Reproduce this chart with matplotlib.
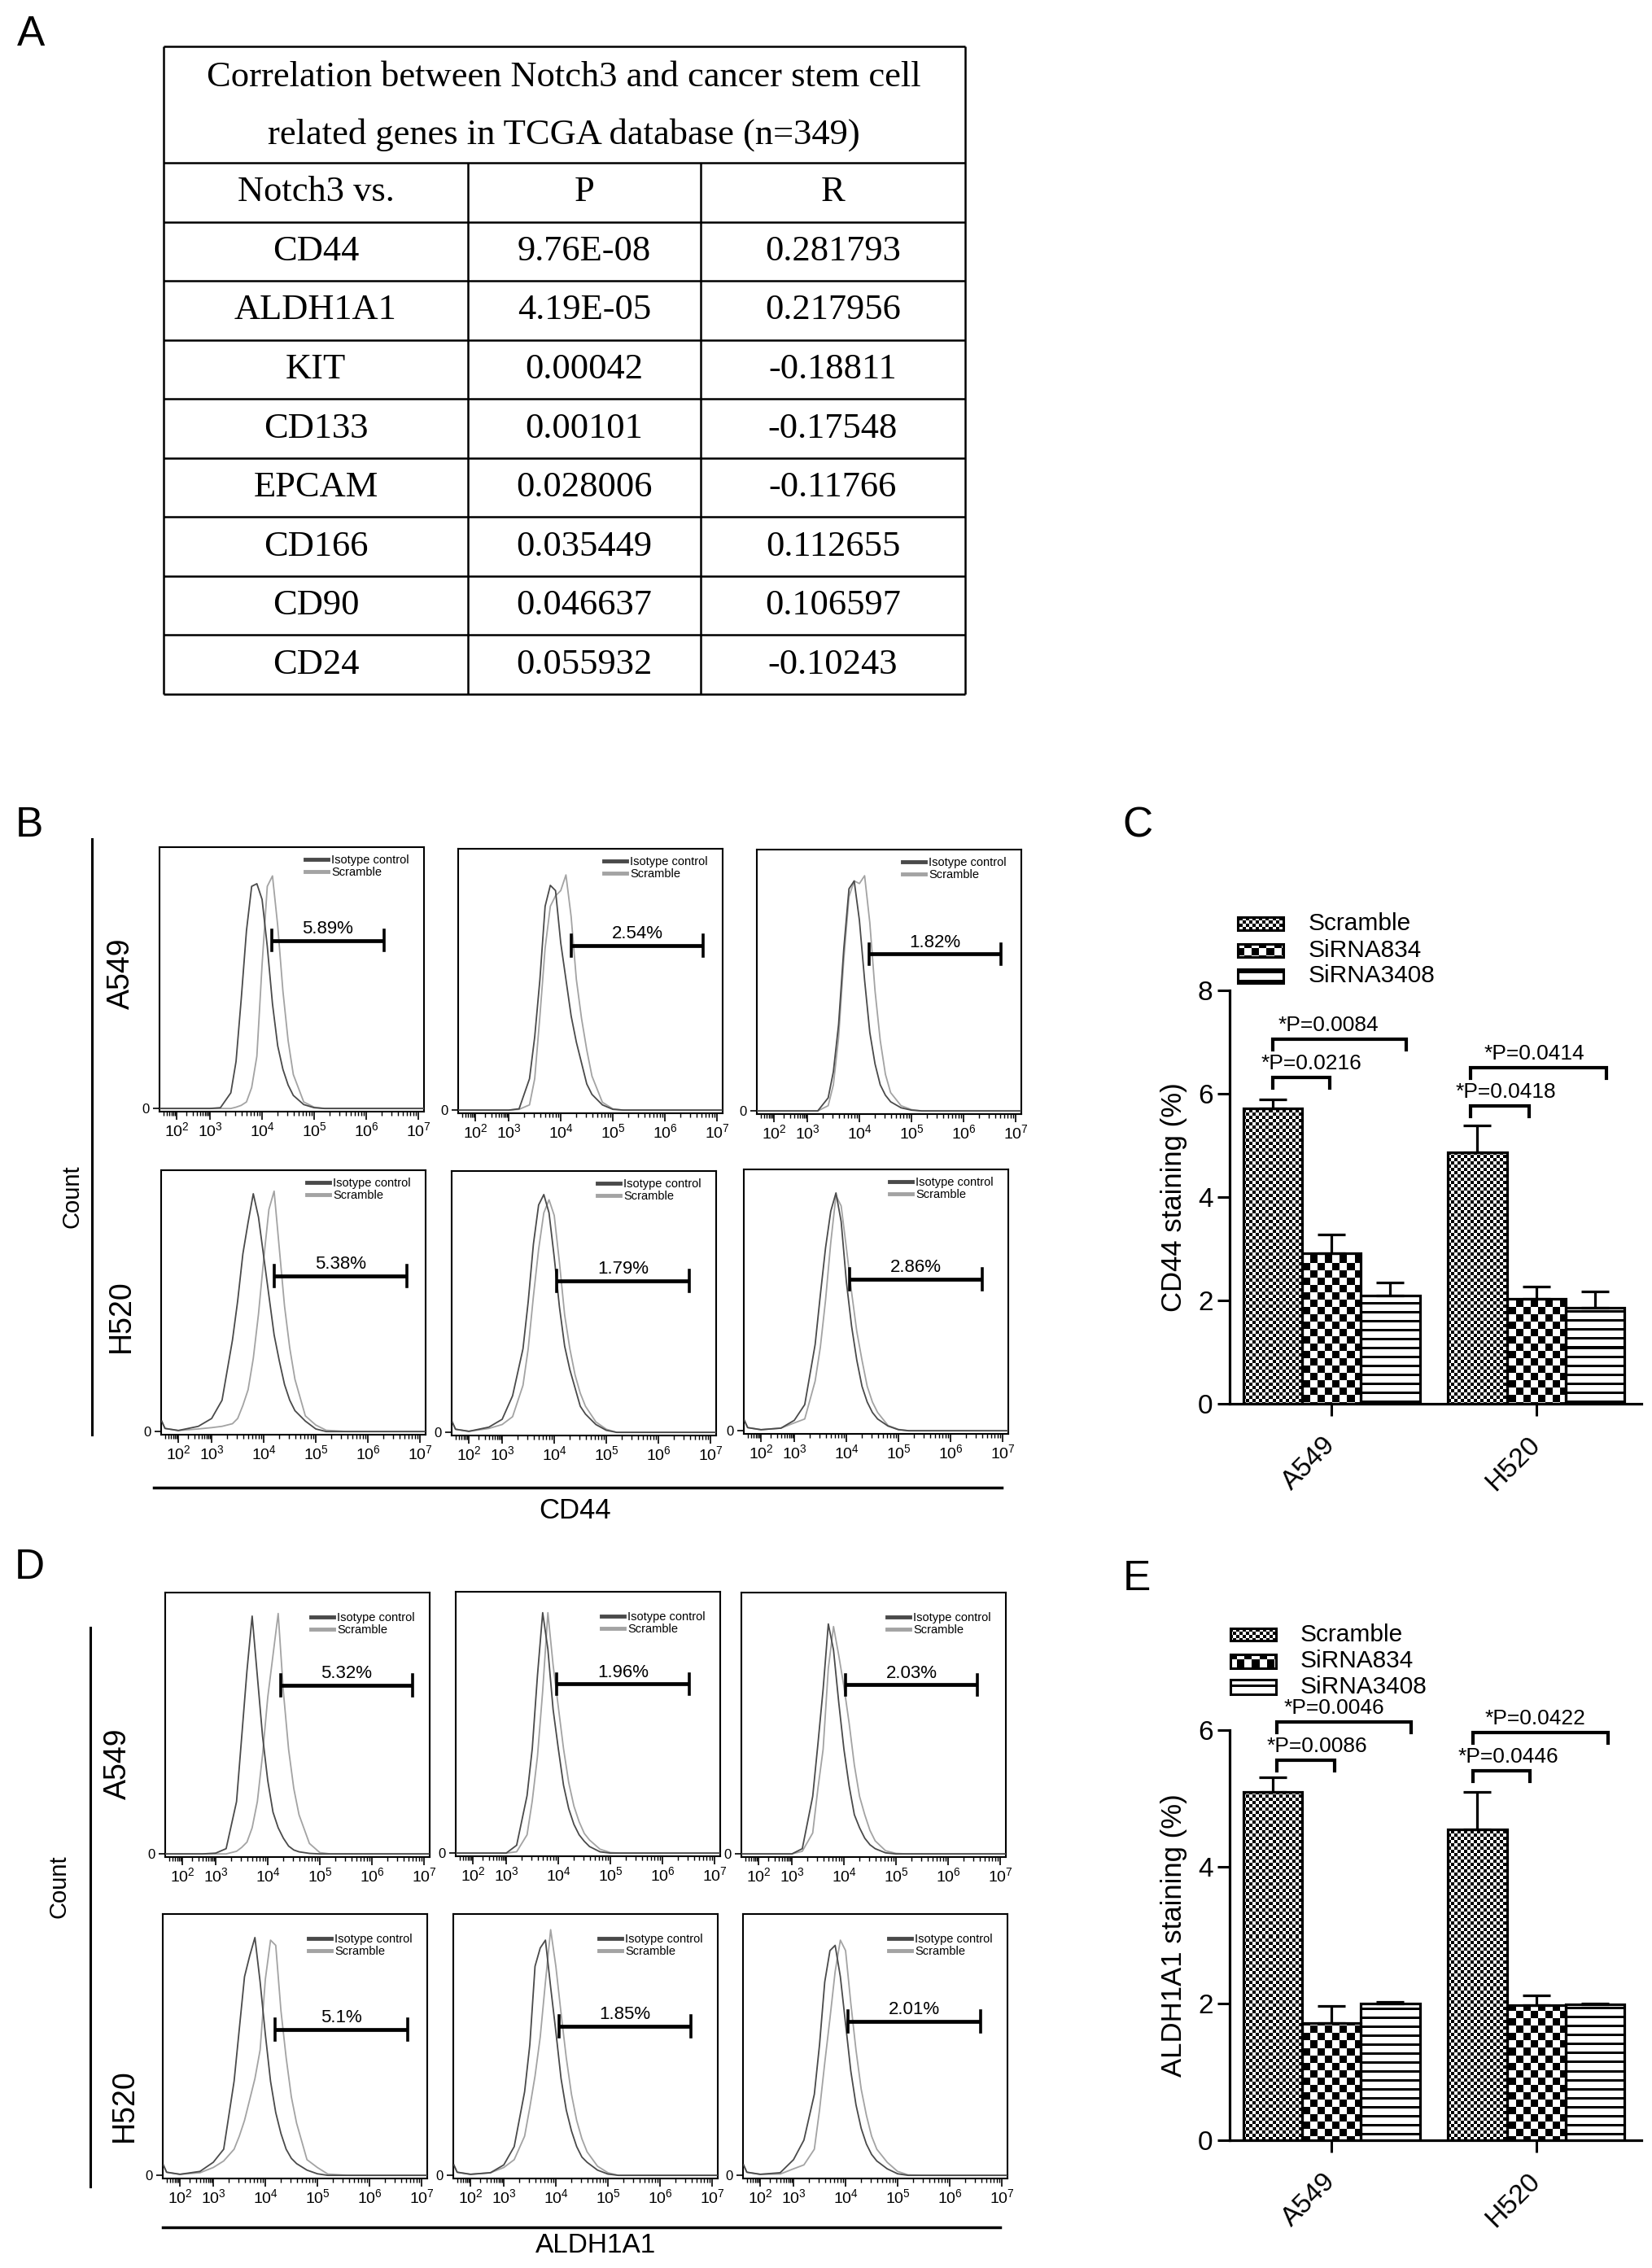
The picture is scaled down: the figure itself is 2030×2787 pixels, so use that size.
import numpy as np
import matplotlib
matplotlib.use("Agg")
import matplotlib.pyplot as plt
from matplotlib.lines import Line2D
from matplotlib.patches import Rectangle

plt.rcParams['font.family'] = ['Liberation Sans', 'DejaVu Sans']
plt.rcParams['mathtext.fontset'] = 'custom'
plt.rcParams['mathtext.rm'] = 'Liberation Sans'
plt.rcParams['mathtext.it'] = 'Liberation Sans:italic'
plt.rcParams['mathtext.bf'] = 'Liberation Sans:bold'

# ── panel A: table ───────────────────────────────────────────────────────────
table_title = ["Correlation between Notch3 and cancer stem cell",
               "related genes in TCGA database (n=349)"]
table_header = ["Notch3 vs.", "P", "R"]
genes = ["CD44", "ALDH1A1", "KIT", "CD133", "EPCAM", "CD166", "CD90", "CD24"]
p_values = ["9.76E-08", "4.19E-05", "0.00042", "0.00101",
            "0.028006", "0.035449", "0.046637", "0.055932"]
r_values = ["0.281793", "0.217956", "-0.18811", "-0.17548",
            "-0.11766", "0.112655", "0.106597", "-0.10243"]

# ── panels B / D: flow histograms (x = log10 fluorescence, y = rel. count) ──
flow_log = [1.5, 1.6, 2.0, 2.6, 3.0, 3.2, 3.4, 3.5, 3.6, 3.7, 3.8, 3.9,
            4.0, 4.1, 4.2, 4.3, 4.4, 4.5, 4.6, 4.8, 5.0, 5.2, 5.6, 7.15]

cd44_a549_iso = [
    [0, 0, 0, 0, 0, .003, .06, .18, .42, .68, .85, .86, .80, .62, .40, .24, .15, .09, .05, .015, .003, 0, 0, 0],
    [0, 0, 0, 0, 0, .005, .12, .28, .50, .78, .86, .84, .64, .50, .36, .26, .18, .10, .06, .02, .003, 0, 0, 0],
    [0, 0, 0, 0, 0, 0, .05, .15, .33, .62, .85, .88, .73, .50, .30, .18, .10, .06, .035, .012, .003, 0, 0, 0]]
cd44_a549_scr = [
    [0, 0, 0, 0, 0, 0, 0, .005, .012, .025, .08, .20, .55, .85, .89, .70, .45, .26, .13, .025, .005, 0, 0, 0],
    [0, 0, 0, 0, 0, .003, .02, .12, .36, .62, .78, .82, .84, .90, .74, .50, .35, .23, .13, .03, .005, 0, 0, 0],
    [0, 0, 0, 0, 0, 0, .02, .10, .28, .58, .82, .88, .87, .90, .72, .46, .27, .14, .07, .02, .005, 0, 0, 0]]
cd44_h520_iso = [
    [.04, .012, .004, .02, .05, .12, .35, .50, .68, .80, .91, .82, .67, .52, .37, .27, .18, .12, .08, .04, .01, 0, 0, 0],
    [.04, .012, .004, .02, .05, .14, .32, .50, .72, .87, .91, .84, .67, .48, .33, .24, .17, .10, .07, .03, .008, 0, 0, 0],
    [.04, .012, .004, .01, .04, .10, .33, .52, .70, .84, .91, .80, .57, .40, .27, .17, .11, .07, .045, .018, .004, 0, 0, 0]]
cd44_h520_scr = [
    [.04, .012, .004, .01, .015, .02, .03, .05, .10, .16, .28, .45, .66, .85, .92, .70, .48, .32, .20, .06, .025, .005, 0, 0],
    [.04, .012, .004, .015, .03, .06, .18, .32, .52, .70, .84, .89, .83, .65, .45, .32, .22, .15, .10, .04, .012, 0, 0, 0],
    [.04, .012, .004, .01, .03, .045, .19, .32, .50, .72, .90, .86, .70, .53, .38, .27, .17, .11, .07, .02, .005, 0, 0, 0]]
aldh_a549_iso = [
    [0, 0, 0, 0, .003, .02, .20, .45, .70, .91, .68, .45, .28, .16, .10, .06, .03, .015, .008, .002, 0, 0, 0, 0],
    [0, 0, 0, 0, 0, .03, .22, .40, .68, .92, .78, .55, .40, .26, .17, .11, .07, .045, .025, .005, 0, 0, 0, 0],
    [0, 0, 0, 0, 0, .02, .22, .42, .63, .88, .78, .58, .40, .26, .15, .10, .06, .035, .02, .004, 0, 0, 0, 0]]
aldh_a549_scr = [
    [0, 0, 0, 0, 0, 0, .01, .025, .045, .10, .20, .38, .60, .76, .92, .62, .40, .25, .15, .04, .005, 0, 0, 0],
    [0, 0, 0, 0, 0, .005, .07, .20, .37, .62, .92, .72, .56, .40, .27, .18, .12, .075, .05, .015, .002, 0, 0, 0],
    [0, 0, 0, 0, 0, .01, .08, .25, .40, .71, .87, .76, .64, .50, .34, .22, .15, .09, .05, .012, .002, 0, 0, 0]]
aldh_h520_iso = [
    [.04, .012, .004, .015, .05, .10, .36, .56, .76, .84, .91, .74, .54, .36, .24, .16, .10, .065, .045, .02, .006, 0, 0, 0],
    [.04, .012, .004, .01, .04, .11, .32, .50, .80, .87, .90, .72, .55, .37, .25, .17, .11, .07, .05, .02, .005, 0, 0, 0],
    [.04, .012, .004, .01, .06, .135, .31, .50, .74, .86, .88, .76, .58, .40, .27, .18, .12, .08, .055, .025, .006, 0, 0, 0]]
aldh_h520_scr = [
    [.04, .012, .004, .01, .03, .055, .10, .15, .21, .29, .37, .48, .75, .90, .88, .63, .45, .30, .20, .06, .03, .005, 0, 0],
    [.04, .012, .004, .01, .03, .06, .15, .26, .38, .53, .74, .94, .80, .62, .45, .31, .21, .14, .09, .035, .01, 0, 0, 0],
    [.04, .012, .004, .005, .025, .04, .10, .25, .43, .60, .78, .90, .86, .66, .48, .33, .23, .15, .10, .05, .015, .002, 0, 0]]

cd44_gate_pct = [["5.89%", "2.54%", "1.82%"], ["5.38%", "1.79%", "2.86%"]]
cd44_gate_start = [[4.19, 4.20, 4.18], [4.20, 4.05, 4.06]]
cd44_gate_end = [[6.34, 6.74, 6.72], [6.75, 6.60, 6.61]]
cd44_gate_level = [[0.643, 0.63, 0.60], [0.595, 0.58, 0.58]]
aldh_gate_pct = [["5.32%", "1.96%", "2.03%"], ["5.1%", "1.85%", "2.01%"]]
aldh_gate_start = [[4.25, 3.97, 4.03], [4.19, 4.06, 4.05]]
aldh_gate_end = [[6.78, 6.51, 6.56], [6.73, 6.60, 6.59]]
aldh_gate_level = [[0.644, 0.647, 0.647], [0.557, 0.57, 0.588]]

# ── panels C / E: bar charts ─────────────────────────────────────────────────
bar_groups = ["A549", "H520"]
bar_series = ["Scramble", "SiRNA834", "SiRNA3408"]
cd44_scramble = [5.71, 4.86]
cd44_sirna834 = [2.92, 2.03]
cd44_sirna3408 = [2.09, 1.86]
cd44_scramble_err = [0.18, 0.53]
cd44_sirna834_err = [0.36, 0.24]
cd44_sirna3408_err = [0.26, 0.31]
aldh_scramble = [5.10, 4.55]
aldh_sirna834 = [1.72, 1.98]
aldh_sirna3408 = [2.00, 1.99]
aldh_scramble_err = [0.21, 0.54]
aldh_sirna834_err = [0.24, 0.14]
aldh_sirna3408_err = [0.02, 0.01]

cd44_sig_label = ["*P=0.0216", "*P=0.0084", "*P=0.0418", "*P=0.0414"]
cd44_sig_x0 = [0.0, 0.0, 3.37, 3.37]
cd44_sig_x1 = [0.97, 2.27, 4.36, 5.67]
cd44_sig_y = [6.31, 7.06, 5.77, 6.50]
cd44_sig_tx = [0.66, 0.95, 3.97, 4.45]
aldh_sig_label = ["*P=0.0086", "*P=0.0046", "*P=0.0446", "*P=0.0422"]
aldh_sig_x0 = [0.07, 0.07, 3.40, 3.40]
aldh_sig_x1 = [1.05, 2.35, 4.38, 5.70]
aldh_sig_y = [5.56, 6.12, 5.41, 5.97]
aldh_sig_tx = [0.75, 1.04, 4.00, 4.47]

# ── figure ───────────────────────────────────────────────────────────────────
W, H, DPI = 2031, 2787, 100
fig = plt.figure(figsize=(W / DPI, H / DPI), dpi=DPI)
fig.patch.set_facecolor("white")


def px_axes(left, top, width, height):
    return fig.add_axes([left / W, 1 - (top + height) / H, width / W, height / H])


over = px_axes(0, 0, W, H)
over.set_xlim(0, W)
over.set_ylim(H, 0)
over.axis("off")

for letter, x, y in [("A", 38, 42), ("B", 36, 1015), ("C", 1398, 1015),
                     ("D", 36, 1926), ("E", 1397, 1940)]:
    over.text(x, y, letter, fontsize=37, ha="center", va="center")

# ── A: table ─────────────────────────────────────────────────────────────────
tab = px_axes(201, 57, 985, 796)
tab.set_xlim(0, 985)
tab.set_ylim(796, 0)
tab.axis("off")
col_edges = [0, 374, 660, 985]
title_h = 143
row_h = (796 - title_h) / 9
serif = "Liberation Serif"
tab.hlines([0] + [title_h + i * row_h for i in range(10)], 0, 985,
           color="black", lw=1.8, clip_on=False)
tab.vlines([0, 985], 0, 796, color="black", lw=1.8, clip_on=False)
tab.vlines(col_edges[1:3], title_h, 796, color="black", lw=1.8, clip_on=False)
tab.text(492, 38, table_title[0], family=serif, fontsize=32, ha="center", va="center")
tab.text(492, 109, table_title[1], family=serif, fontsize=32, ha="center", va="center")
rows = [table_header] + [list(r) for r in zip(genes, p_values, r_values)]
for i, row in enumerate(rows):
    yc = title_h + (i + 0.5) * row_h
    for j, cell in enumerate(row):
        xc = (col_edges[j] + col_edges[j + 1]) / 2
        tab.text(xc, yc, cell, family=serif, fontsize=32, ha="center", va="center")

# ── B / D: flow histograms ───────────────────────────────────────────────────
ISO_C = "#4a4a4a"
SCR_C = "#a3a3a3"
XLO, XHI = 1.484, 7.11


def fwd(L):
    L = np.asarray(L, float)
    return np.where(L >= 3, L, 3 - (3 - L) * 0.64)


def inv(p):
    p = np.asarray(p, float)
    return np.where(p >= 3, p, 3 - (3 - p) / 0.64)


def flow_panel(left, top, iso, scr, g0, g1, gy, pct, drop):
    ax = px_axes(left, top, 325, 325)
    ax.set_xscale("function", functions=(fwd, inv))
    ax.plot(flow_log, scr, color=SCR_C, lw=1.3, zorder=2)
    ax.plot(flow_log, iso, color=ISO_C, lw=1.3, zorder=3)
    ax.set_xlim(XLO, XHI)
    ax.set_ylim(-0.012, 1.0)
    majors = [2, 3, 4, 5, 6, 7]
    ax.set_xticks(majors)
    ax.set_xticklabels([f"$10^{{{m}}}$" for m in majors])
    minors = [np.log10(k) + n for n in range(1, 7) for k in range(2, 10)]
    ax.set_xticks([m for m in minors if XLO < m < XHI], minor=True)
    ax.set_yticks([0])
    ax.set_yticklabels(["0"])
    ax.tick_params(axis="x", which="major", length=7.5, width=1.2, labelsize=14, pad=1)
    ax.tick_params(axis="x", which="minor", length=3.6, width=1.0)
    ax.tick_params(axis="y", length=5.8, width=1.2, labelsize=12, pad=3)
    for sp in ax.spines.values():
        sp.set_linewidth(1.5)
    ax.plot([g0, g1], [gy, gy], color="black", lw=3.4, solid_capstyle="butt", zorder=4)
    for g in (g0, g1):
        ax.plot([g, g], [gy - 0.04, gy + 0.04], color="black", lw=2.6, zorder=4)
    ax.text((g0 + g1) / 2, gy + 0.012, pct, ha="center", va="bottom", fontsize=16)
    handles = [Line2D([], [], color=ISO_C, lw=3.5), Line2D([], [], color=SCR_C, lw=3.5)]
    ax.legend(handles, ["Isotype control", "Scramble"], loc="upper left",
              bbox_to_anchor=(1 - 146 / 325, 1 - drop / 325), frameon=False,
              fontsize=10.5, handlelength=1.9, handletextpad=0.3, labelspacing=0.1,
              borderpad=0, borderaxespad=0)
    return ax


cd44_frames = [[(196, 1041), (563, 1043), (930, 1044)],
               [(198, 1438), (555, 1439), (914, 1437)]]
aldh_frames = [[(203, 1957), (560, 1956), (911, 1957)],
               [(200, 2352), (557, 2352), (913, 2352)]]

for r, (iso_rows, scr_rows) in enumerate([(cd44_a549_iso, cd44_a549_scr),
                                          (cd44_h520_iso, cd44_h520_scr)]):
    for c in range(3):
        left, top = cd44_frames[r][c]
        flow_panel(left, top, iso_rows[c], scr_rows[c], cd44_gate_start[r][c],
                   cd44_gate_end[r][c], cd44_gate_level[r][c], cd44_gate_pct[r][c], 9)

for r, (iso_rows, scr_rows) in enumerate([(aldh_a549_iso, aldh_a549_scr),
                                          (aldh_h520_iso, aldh_h520_scr)]):
    for c in range(3):
        left, top = aldh_frames[r][c]
        flow_panel(left, top, iso_rows[c], scr_rows[c], aldh_gate_start[r][c],
                   aldh_gate_end[r][c], aldh_gate_level[r][c], aldh_gate_pct[r][c], 24)

# block decorations (lines and labels around the histogram grids)
over.plot([113, 113], [1031, 1763], color="black", lw=2.2)
over.plot([189, 1231], [1828, 1828], color="black", lw=2.5)
over.plot([111, 111], [2000, 2687], color="black", lw=2.2)
over.plot([200, 1229], [2737, 2737], color="black", lw=2.5)
over.text(149, 1196, "A549", fontsize=27, rotation=90, ha="center", va="center")
over.text(149, 1617, "H520", fontsize=27, rotation=90, ha="center", va="center")
over.text(145, 2167, "A549", fontsize=27, rotation=90, ha="center", va="center")
over.text(153, 2587, "H520", fontsize=27, rotation=90, ha="center", va="center")
over.text(89, 1470, "Count", fontsize=21, rotation=90, ha="center", va="center")
over.text(72, 2318, "Count", fontsize=21, rotation=90, ha="center", va="center")
over.text(707, 1856, "CD44", fontsize=25, ha="center", va="center")
over.text(732, 2760, "ALDH1A1", fontsize=24, ha="center", va="center")

# ── C / E: bar charts ────────────────────────────────────────────────────────
group_x = [0.0, 3.48]
textures = ["fine", "coarse", "lines"]
BXLO, BXHI = -0.733, 6.27


def texture(kind, nrows, ncols):
    yy, xx = np.mgrid[0:nrows, 0:ncols]
    if kind == "fine":
        return ((xx // 4 + yy // 4) % 2).astype(float)
    if kind == "coarse":
        return ((xx // 9 + yy // 9) % 2).astype(float)
    return ((yy % 11) < 3).astype(float)


def add_texture(ax, patch, kind, extent, shape):
    im = ax.imshow(texture(kind, *shape), cmap="gray_r", vmin=0, vmax=1,
                   extent=extent, interpolation="nearest", aspect="auto", zorder=2)
    im.set_clip_path(patch)


def bar_panel(left, top, wpx, hpx, ymax, ylabel, means, errs,
              sig_label, sig_x0, sig_x1, sig_y, sig_tx, leg_x0, leg_tx, leg_rows):
    ax = px_axes(left, top, wpx, hpx)
    ppu = hpx / ymax
    shape = (int(round(hpx * 1.35)), wpx)
    extent = (BXLO, BXHI, 0, ymax * 1.35)
    for s, (vals, ev) in enumerate(zip(means, errs)):
        xs = [g + s for g in group_x]
        bars = ax.bar(xs, vals, width=1.0, facecolor="none", edgecolor="black",
                      lw=2.3, zorder=3)
        for b in bars:
            add_texture(ax, b, textures[s], extent, shape)
        ax.errorbar(xs, vals, yerr=[np.zeros(len(ev)), ev], fmt="none", ecolor="black",
                    elinewidth=2.3, capsize=12, capthick=2.3, zorder=4)
    for s, (y0, y1) in enumerate(leg_rows):
        rect = Rectangle((leg_x0, y0), 0.111, y1 - y0, transform=ax.transAxes,
                         facecolor="none", edgecolor="black", lw=2.2, clip_on=False, zorder=3)
        ax.add_patch(rect)
        add_texture(ax, rect, textures[s], extent, shape)
        ax.text(leg_tx, (y0 + y1) / 2, bar_series[s], transform=ax.transAxes,
                fontsize=21.5, ha="left", va="center")
    leg = 13 / ppu
    for lab, x0, x1, y, tx in zip(sig_label, sig_x0, sig_x1, sig_y, sig_tx):
        ax.plot([x0, x0, x1, x1], [y - leg, y, y, y - leg], color="black", lw=3.0,
                solid_joinstyle="miter", clip_on=False, zorder=4)
        ax.text(tx, y + 17 / ppu, lab, fontsize=19, ha="center", va="center")
    ax.set_xlim(BXLO, BXHI)
    ax.set_ylim(0, ymax)
    ax.set_yticks(np.arange(0, ymax + 1, 2))
    ax.set_xticks([g + 1 for g in group_x])
    ax.set_xticklabels(bar_groups, rotation=45, ha="right", va="center",
                       rotation_mode="anchor")
    ax.tick_params(axis="both", length=10.8, width=2.2, labelsize=24)
    ax.tick_params(axis="y", pad=4)
    ax.tick_params(axis="x", pad=22)
    for side in ("top", "right"):
        ax.spines[side].set_visible(False)
    for side in ("left", "bottom"):
        ax.spines[side].set_linewidth(2.3)
    ax.set_ylabel(ylabel, fontsize=25)
    ax.yaxis.label.set_va("center")
    ax.yaxis.set_label_coords(-0.136, 0.5)
    return ax


bar_panel(1511, 1217, 506, 508, 8, "CD44 staining (%)",
          [cd44_scramble, cd44_sirna834, cd44_sirna3408],
          [cd44_scramble_err, cd44_sirna834_err, cd44_sirna3408_err],
          cd44_sig_label, cd44_sig_x0, cd44_sig_x1, cd44_sig_y, cd44_sig_tx,
          0.02, 0.19, [(1.146, 1.177), (1.081, 1.112), (1.018, 1.051)])

bar_panel(1511, 2126, 506, 504, 6, "ALDH1A1 staining (%)",
          [aldh_scramble, aldh_sirna834, aldh_sirna3408],
          [aldh_scramble_err, aldh_sirna834_err, aldh_sirna3408_err],
          aldh_sig_label, aldh_sig_x0, aldh_sig_x1, aldh_sig_y, aldh_sig_tx,
          0.002, 0.172, [(1.218, 1.248), (1.151, 1.185), (1.087, 1.123)])

fig.savefig("out.png", dpi=DPI)
